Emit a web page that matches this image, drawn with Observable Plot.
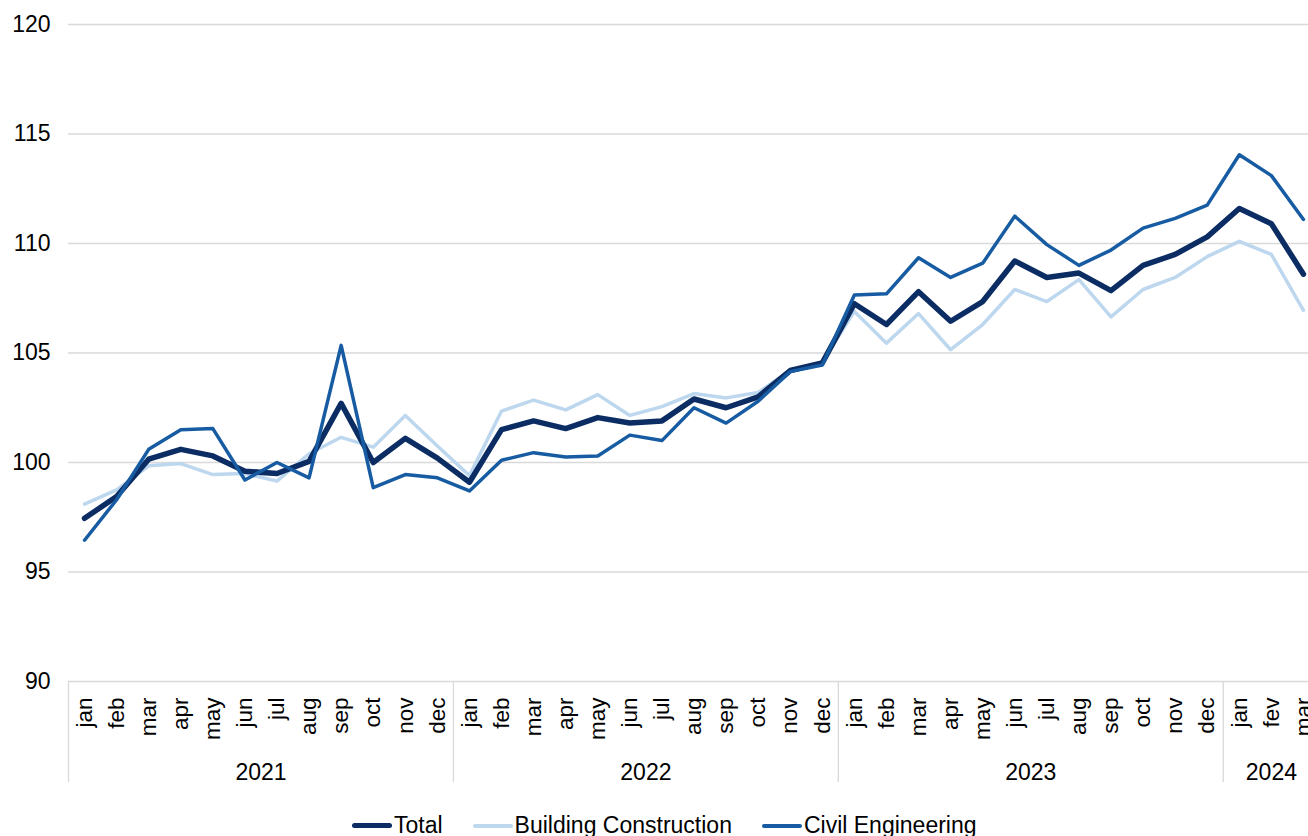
<!DOCTYPE html>
<html>
<head>
<meta charset="utf-8">
<script src="https://cdn.jsdelivr.net/npm/d3@7"></script>
<script src="https://cdn.jsdelivr.net/npm/@observablehq/plot@0.6"></script>
<style>
  html, body { margin: 0; padding: 0; background: #fff; overflow: hidden; }
  #wrap { position: relative; width: 1308px; height: 836px; overflow: hidden; font-family: "Liberation Sans", Arial, sans-serif; }
  #chart svg { max-width: none !important; width: 1320px !important; height: 800px !important; display: block; }
  #legend { position: absolute; left: 352px; top: 812px; display: flex; align-items: center; font-size: 23px; color: #000; white-space: nowrap; }
  .item { display: flex; align-items: center; margin-right: 30px; }
  .sw { width: 40px; border-radius: 3px; margin-right: 2px; }
</style>
</head>
<body>
<div id="wrap"><div id="chart"></div><div id="legend"></div></div>
<script>
const years = ["2021", "2022", "2023", "2024"];
const monthNames = ["jan","feb","mar","apr","may","jun","jul","aug","sep","oct","nov","dec"];
const months2024 = ["jan","fev","mar"];
const yTicks = [90, 95, 100, 105, 110, 115, 120];

const total = [97.45, 98.45, 100.15, 100.6, 100.3, 99.6, 99.5, 100.05, 102.7, 100.0, 101.1, 100.2,
  99.1, 101.5, 101.9, 101.55, 102.05, 101.8, 101.9, 102.9, 102.5, 103.0, 104.2, 104.55,
  107.25, 106.3, 107.8, 106.45, 107.35, 109.2, 108.45, 108.65, 107.85, 109.0, 109.5, 110.3,
  111.6, 110.9, 108.6];
const building = [98.1, 98.75, 99.85, 99.95, 99.45, 99.5, 99.15, 100.4, 101.15, 100.7, 102.15, 100.75,
  99.4, 102.35, 102.85, 102.4, 103.1, 102.15, 102.55, 103.15, 102.95, 103.2, 104.2, 104.6,
  106.9, 105.45, 106.8, 105.15, 106.3, 107.9, 107.35, 108.35, 106.65, 107.9, 108.45, 109.4,
  110.1, 109.5, 106.95];
const civil = [96.45, 98.3, 100.6, 101.5, 101.55, 99.2, 100.0, 99.3, 105.35, 98.85, 99.45, 99.3,
  98.7, 100.1, 100.45, 100.25, 100.3, 101.25, 101.0, 102.5, 101.8, 102.8, 104.15, 104.45,
  107.65, 107.7, 109.35, 108.45, 109.1, 111.25, 109.95, 109.0, 109.7, 110.7, 111.15, 111.75,
  114.05, 113.1, 111.1];

const series = [
  {name: "Total", key: "total", color: "#0b2d64", width: 5.5},
  {name: "Building Construction", key: "building", color: "#bdd7ee", width: 3.5},
  {name: "Civil Engineering", key: "civil", color: "#175ca2", width: 3.5}
];

// Build table
const monthsPerYear = years.map((y, k) => k === years.length - 1 ? months2024 : monthNames);
const rows = [];
monthsPerYear.forEach((ms, k) => ms.forEach(m => {
  const i = rows.length;
  rows.push({i, month: m, year: years[k], total: total[i], building: building[i], civil: civil[i]});
}));
const yearInfo = years.map(y => {
  const idx = rows.filter(r => r.year === y).map(r => r.i);
  return {year: y, start: d3.min(idx) - 0.5, mid: d3.mean(idx)};
});

const chart = Plot.plot({
  width: 1320,
  height: 800,
  marginLeft: 68,
  marginRight: 1,
  marginTop: 24,
  marginBottom: 119,
  x: {domain: [-0.5, rows.length - 0.5], axis: null},
  y: {domain: [90, 120], label: null, axis: null},
  style: {fontFamily: "'Liberation Sans', Arial, sans-serif", fontSize: "22px", color: "#000", background: "#fff", overflow: "visible"},
  marks: [
    Plot.ruleY(yTicks, {stroke: "#d9d9d9", strokeWidth: 1.3}),
    Plot.axisY({ticks: yTicks, tickSize: 0, tickPadding: 18, fontSize: 23, label: null, fill: "#000"}),
    Plot.ruleX(yearInfo, {x: "start", y1: 90, y2: 90, insetBottom: -101, stroke: "#d9d9d9", strokeWidth: 1.3}),
    Plot.text(rows, {x: "i", text: "month", frameAnchor: "bottom", dy: 16, rotate: -90, textAnchor: "end", lineAnchor: "middle", fontSize: 22.5, fill: "#000"}),
    Plot.text(yearInfo, {x: "mid", text: "year", frameAnchor: "bottom", dy: 91, lineAnchor: "middle", fontSize: 23, fill: "#000"}),
    Plot.lineY(rows, {x: "i", y: "building", stroke: series[1].color, strokeWidth: series[1].width, strokeLinecap: "round"}),
    Plot.lineY(rows, {x: "i", y: "total", stroke: series[0].color, strokeWidth: series[0].width, strokeLinecap: "round"}),
    Plot.lineY(rows, {x: "i", y: "civil", stroke: series[2].color, strokeWidth: series[2].width, strokeLinecap: "round"})
  ]
});
document.getElementById("chart").appendChild(chart);

const legend = document.getElementById("legend");
series.forEach(s => {
  const item = document.createElement("div");
  item.className = "item";
  const sw = document.createElement("div");
  sw.className = "sw";
  sw.style.height = (s.name === "Total" ? 5 : 4) + "px";
  sw.style.background = s.color;
  const t = document.createElement("span");
  t.textContent = s.name;
  item.appendChild(sw); item.appendChild(t);
  legend.appendChild(item);
});
</script>
</body>
</html>
